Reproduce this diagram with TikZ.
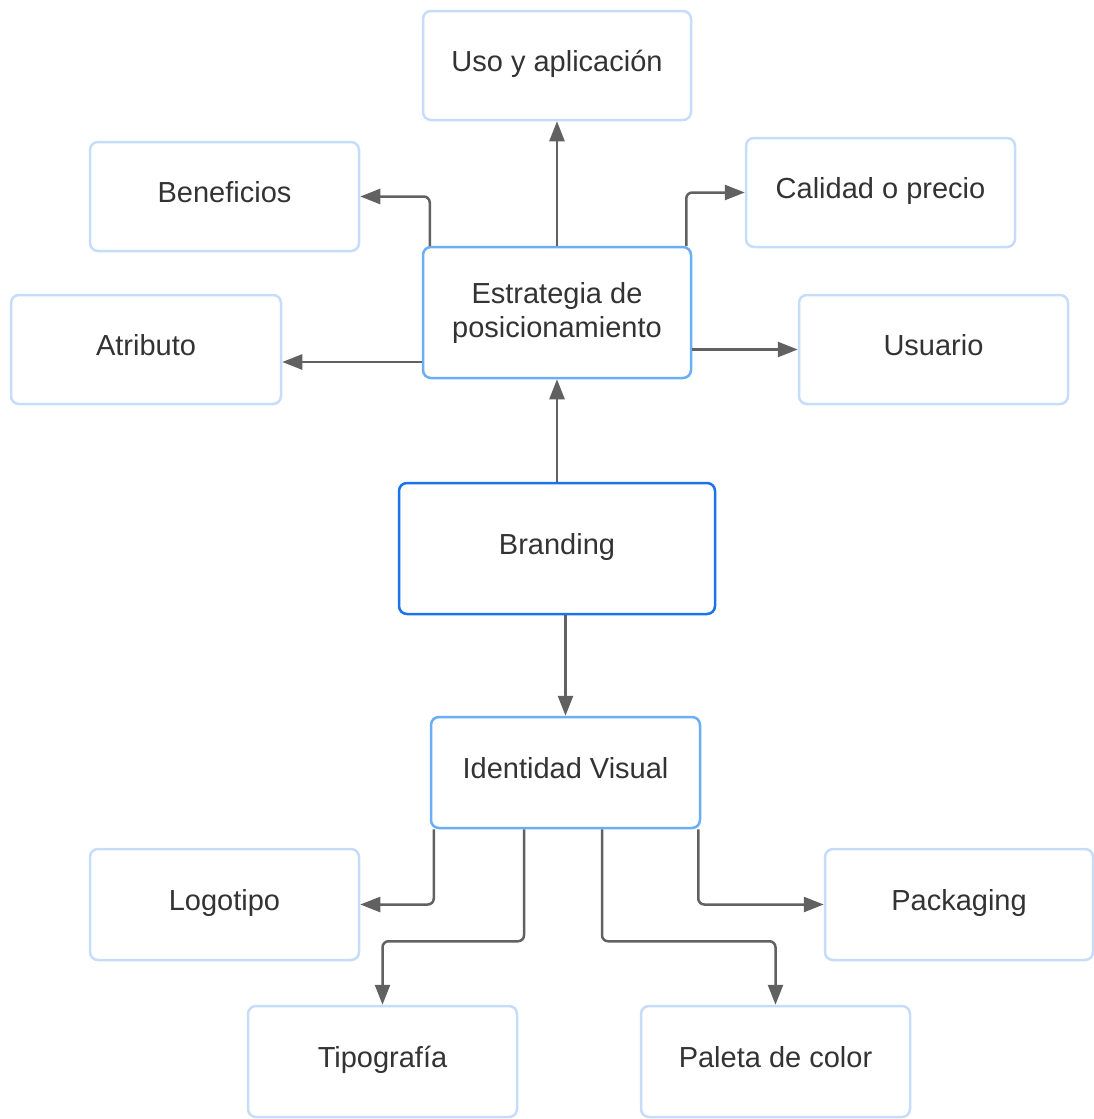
\documentclass[tikz,border=0pt]{standalone}
\usepackage{fontspec}
\setmainfont{Liberation Sans}
\usetikzlibrary{arrows.meta,calc}
\definecolor{lightb}{HTML}{C6DCFA}
\definecolor{midb}{HTML}{6AAEF6}
\definecolor{strongb}{HTML}{1A73E8}
\definecolor{linegray}{HTML}{616161}
\definecolor{txt}{HTML}{333333}
\tikzset{
  box/.style={draw=lightb, fill=white, rounded corners=8pt, line width=2.5pt,
    minimum width=269pt, minimum height=109pt, inner sep=0pt, align=center,
    text=txt, font=\fontsize{29}{34}\selectfont},
  oneline/.style={text height=22pt, text depth=10pt},
  midbox/.style={box, draw=midb},
  strongbox/.style={box, draw=strongb},
  conn/.style={draw=linegray, line width=2.5pt, rounded corners=6pt,
    -{Triangle[length=20pt,width=15pt]}}
}
\begin{document}
\begin{tikzpicture}[x=1pt,y=-1pt]
\useasboundingbox (0,0) rectangle (1094,1119);
\node[box, oneline, minimum width=268pt] (uso) at (557,65.5) {Uso y aplicación};
\node[box, oneline] (ben) at (224.5,196.5) {Beneficios};
\node[box, oneline] (cal) at (880.5,192.5) {Calidad o precio};
\node[midbox, minimum width=268pt, minimum height=131pt] (est) at (557,312.5) {Estrategia de\\posicionamiento};
\node[box, oneline, minimum width=270pt] (atr) at (146,349.5) {Atributo};
\node[box, oneline] (usu) at (933.5,349.5) {Usuario};
\node[strongbox, oneline, minimum width=316pt, minimum height=131pt] (bra) at (557,548.5) {Branding};
\node[midbox, oneline, minimum height=111pt] (ide) at (565.5,772.5) {Identidad Visual};
\node[box, oneline, minimum height=111pt] (logo) at (224.5,904.5) {Logotipo};
\node[box, oneline, minimum width=268pt, minimum height=111pt] (pack) at (959,904.5) {Packaging};
\node[box, oneline, minimum height=111pt] (tipo) at (382.5,1061.5) {Tipografía};
\node[box, oneline, minimum height=111pt] (pal) at (775.5,1061.5) {Paleta de color};

% upper connectors
\draw[conn] (est.north) -- (uso.south);
\draw[conn] ([xshift=8pt]est.north west) |- (ben.east);
\draw[conn] ([xshift=-6pt]est.north east) |- (cal.west);
\coordinate (a1) at ([yshift=-49.5pt]est.west);
\draw[conn] (a1) -- (a1 -| atr.east);
\draw[conn] (est.east |- usu.west) -- (usu.west);
\draw[conn] (bra.north) -- (est.south);
\draw[conn] (bra.south -| ide.north) -- (ide.north);

% lower connectors
\draw[conn] ([xshift=4pt]ide.south west) |- (logo.east);
\draw[conn] ([xshift=-3pt]ide.south east) |- (pack.west);
\coordinate (lev) at ([yshift=-112pt]ide.south);
\coordinate (t1) at ([xshift=-41.5pt]ide.south);
\coordinate (t2) at ([xshift=36.5pt]ide.south);
\draw[conn] (t1) -- (t1 |- lev) -| (tipo.north);
\draw[conn] (t2) -- (t2 |- lev) -| (pal.north);
\end{tikzpicture}
\end{document}
